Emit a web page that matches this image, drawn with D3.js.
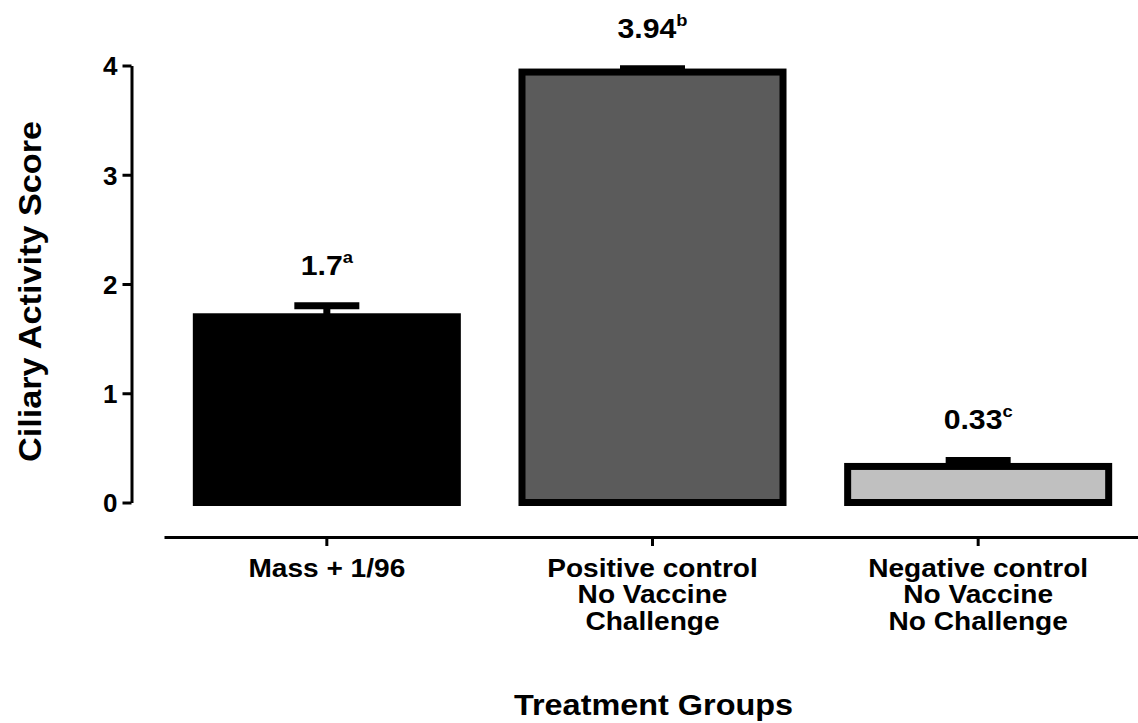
<!DOCTYPE html>
<html>
<head>
<meta charset="utf-8">
<script src="https://cdn.jsdelivr.net/npm/d3@7"></script>
<style>
  html, body { margin: 0; padding: 0; background: #ffffff; }
  svg { display: block; }
  text { font-family: "Liberation Sans", Arial, Helvetica, sans-serif; font-weight: bold; fill: #000; }
</style>
</head>
<body>
<svg id="chart" width="1138" height="723"></svg>
<script>
// Ciliary activity score by treatment group (mean + SEM, letters = significance groups)
const groupNames = ["Mass + 1/96", "Positive control", "Negative control"];
const groupLines = [
  ["Mass + 1/96"],
  ["Positive control", "No Vaccine", "Challenge"],
  ["Negative control", "No Vaccine", "No Challenge"]
];
const meanScores = [1.7, 3.94, 0.33];
const semScores = [0.10, 0.03, 0.055];
const meanLabels = ["1.7", "3.94", "0.33"];
const sigLetters = ["a", "b", "c"];
const barFills = ["#000000", "#5b5b5b", "#c0c0c0"];
const yTicks = [0, 1, 2, 3, 4];

const svg = d3.select("#chart");
const stretch = 1.08;   // slightly wide lettering
const barStroke = 7;

const x = d3.scaleBand()
  .domain(groupNames)
  .range([164, 1141])
  .paddingInner(0.177)
  .paddingOuter(0.0885);

const y = d3.scaleLinear()
  .domain([0, 4])
  .range([502.5, 65.5]);

// Y axis
const yAxis = svg.append("g")
  .attr("transform", "translate(131.5,0)")
  .call(d3.axisLeft(y).tickValues(yTicks).tickFormat(d3.format("d"))
    .tickSize(9).tickSizeOuter(0).tickPadding(5));
yAxis.select(".domain").attr("stroke", "#000").attr("stroke-width", 3);
yAxis.selectAll(".tick line").attr("stroke", "#000").attr("stroke-width", 3);
yAxis.selectAll(".tick text")
  .attr("font-size", 26)
  .attr("font-family", "Liberation Sans, Arial, sans-serif")
  .attr("font-weight", "bold")
  .attr("dy", "0.36em");

// X axis, drawn below the bars' baseline
const xAxis = svg.append("g")
  .attr("transform", "translate(0,537)")
  .call(d3.axisBottom(x).tickSize(9).tickSizeOuter(0).tickFormat(""));
xAxis.select(".domain").attr("stroke", "#000").attr("stroke-width", 3);
xAxis.selectAll(".tick line").attr("stroke", "#000").attr("stroke-width", 3);

// Category labels (multi-line)
groupNames.forEach((g, i) => {
  const cx = x(g) + x.bandwidth() / 2;
  groupLines[i].forEach((line, j) => {
    svg.append("text")
      .attr("transform", `translate(${cx},${577 + j * 26.3}) scale(${stretch},1)`)
      .attr("text-anchor", "middle")
      .attr("font-size", 26)
      .text(line);
  });
});

// Error bars (behind the bars so the stem is hidden inside them)
const errG = svg.append("g");
groupNames.forEach((g, i) => {
  const cx = x(g) + x.bandwidth() / 2;
  const top = meanScores[i] + semScores[i];
  errG.append("line")
    .attr("x1", cx).attr("x2", cx)
    .attr("y1", y(top)).attr("y2", y(meanScores[i]))
    .attr("stroke", "#000").attr("stroke-width", barStroke);
  errG.append("line")
    .attr("x1", cx - 32.5).attr("x2", cx + 32.5)
    .attr("y1", y(top)).attr("y2", y(top))
    .attr("stroke", "#000").attr("stroke-width", barStroke);
});

// Bars
svg.append("g").selectAll("rect")
  .data(groupNames)
  .join("rect")
  .attr("x", d => x(d) + barStroke / 2)
  .attr("width", x.bandwidth() - barStroke)
  .attr("y", (d, i) => y(meanScores[i]))
  .attr("height", (d, i) => y(0) - y(meanScores[i]))
  .attr("fill", (d, i) => barFills[i])
  .attr("stroke", "#000")
  .attr("stroke-width", barStroke);

// Mean labels with significance letters
groupNames.forEach((g, i) => {
  const cx = x(g) + x.bandwidth() / 2;
  const top = meanScores[i] + semScores[i];
  const t = svg.append("text")
    .attr("transform", `translate(${cx},${y(top) - 31}) scale(${stretch},1)`)
    .attr("text-anchor", "middle")
    .attr("font-size", 28);
  t.append("tspan").text(meanLabels[i]);
  t.append("tspan").attr("font-size", 17).attr("dy", -12).text(sigLetters[i]);
});

// Axis titles
svg.append("text")
  .attr("transform", `translate(653.5,715) scale(${stretch},1)`)
  .attr("text-anchor", "middle")
  .attr("font-size", 30)
  .text("Treatment Groups");

svg.append("text")
  .attr("transform", `translate(41,291.5) rotate(-90) scale(1.07,1)`)
  .attr("text-anchor", "middle")
  .attr("font-size", 32)
  .text("Ciliary Activity Score");
</script>
</body>
</html>
